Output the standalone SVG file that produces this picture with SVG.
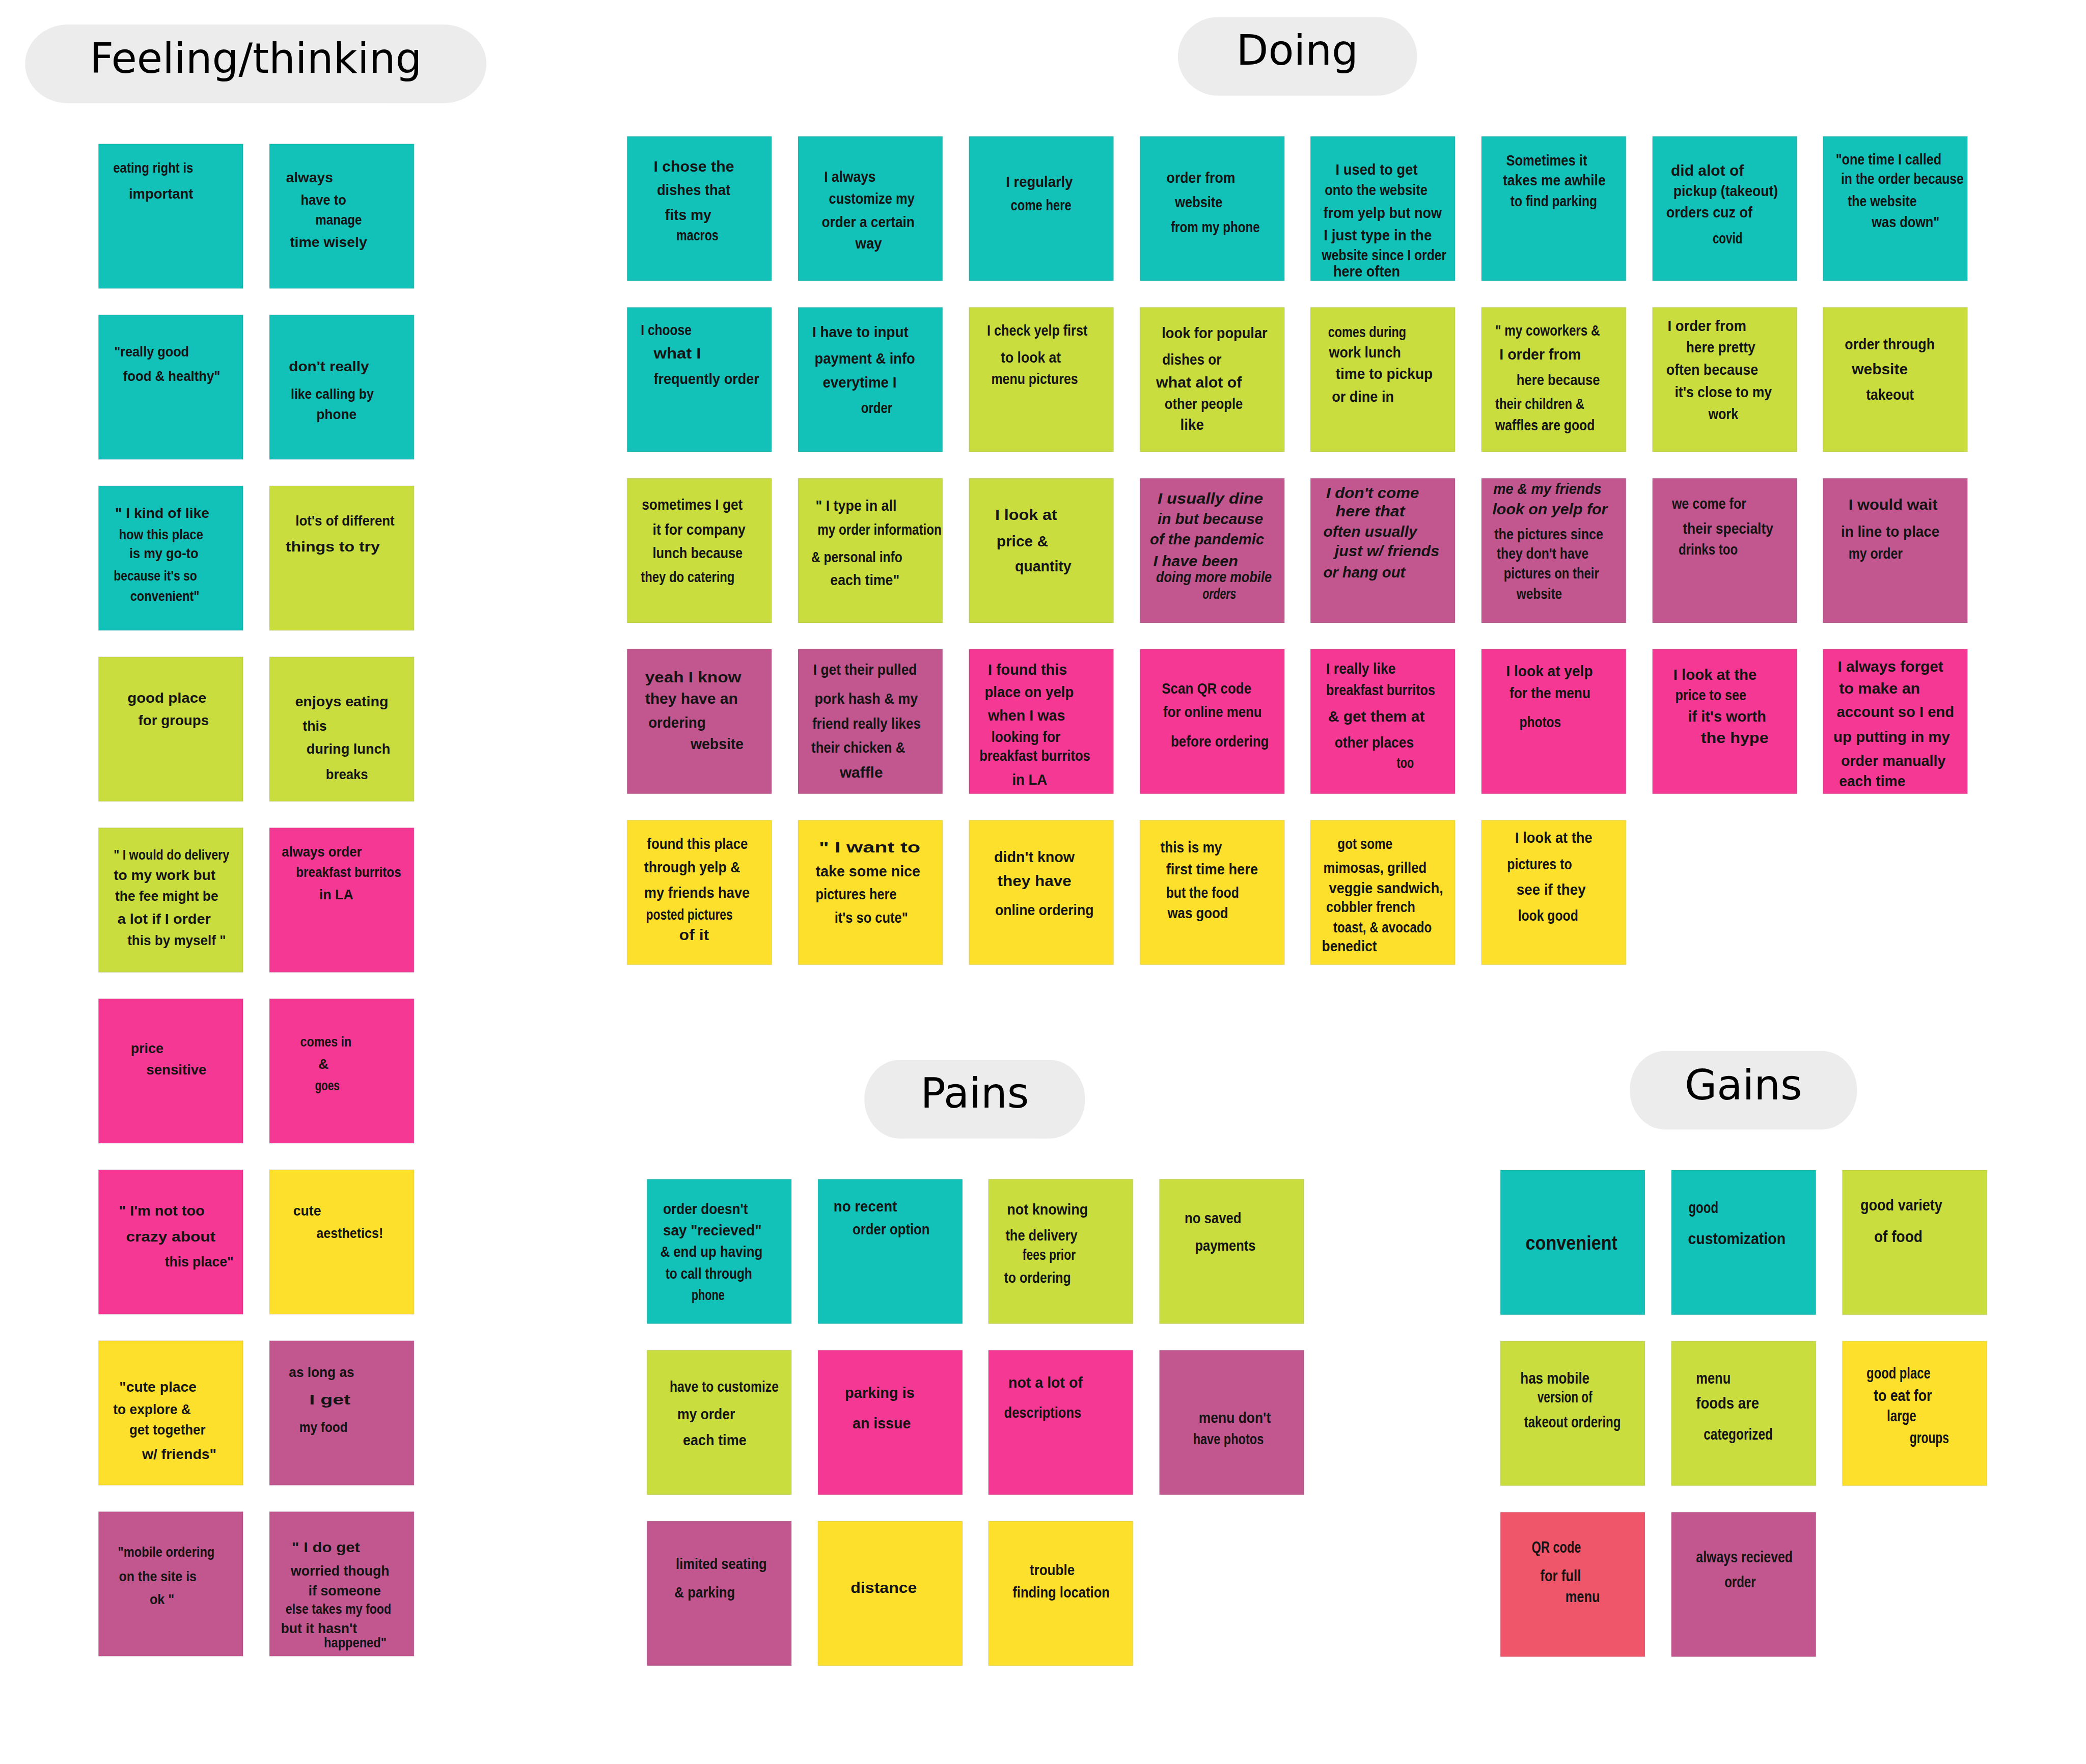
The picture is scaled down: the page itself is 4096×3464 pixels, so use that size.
<svg xmlns="http://www.w3.org/2000/svg" width="4096" height="3464" viewBox="0 0 4096 3464">
<style>
.pill{fill:#ECECEC}
.h{font-family:"DejaVu Sans","Liberation Sans",sans-serif;font-size:88px;fill:#000;text-anchor:middle}
.nt{stroke:rgba(0,0,0,0.07);stroke-width:2}
.teal{fill:#12C1B8}.lime{fill:#C9DD3E}.plum{fill:#C2568F}.pink{fill:#F43893}.yel{fill:#FDE02C}.coral{fill:#F0566A}
text.w{font-family:"Liberation Sans",Arial,sans-serif;font-weight:700;fill:#141414}
.s30{font-size:30px}.s32{font-size:32px}.s34{font-size:34px}.s42{font-size:42px}
.it{font-style:italic}
</style>
<rect x="0" y="0" width="4096" height="3464" fill="#FFFFFF"/>
<g transform="scale(0.93)">
<g id="headers">
<g id="hdr-feeling"><rect class="pill" x="53" y="52" width="974" height="166" rx="90" ry="83"/><text class="h" x="540" y="154">Feeling/thinking</text></g>
<g id="hdr-doing"><rect class="pill" x="2487" y="36" width="505" height="166" rx="85" ry="83"/><text class="h" x="2739" y="137">Doing</text></g>
<g id="hdr-pains"><rect class="pill" x="1825" y="2238" width="466" height="166" rx="75" ry="83"/><text class="h" x="2058" y="2339">Pains</text></g>
<g id="hdr-gains"><rect class="pill" x="3441" y="2219" width="480" height="166" rx="75" ry="83"/><text class="h" x="3681" y="2322">Gains</text></g>
</g>
<g id="connectors"/>

<!-- Feeling/thinking -->
<g id="feel-01" transform="translate(208,304)"><rect class="nt teal" width="305" height="305"/>
<text class="w s30" x="31" y="61" textLength="169" lengthAdjust="spacingAndGlyphs">eating right is</text>
<text class="w s30" x="64" y="115" textLength="136" lengthAdjust="spacingAndGlyphs">important</text></g>
<g id="feel-02" transform="translate(569,304)"><rect class="nt teal" width="305" height="305"/>
<text class="w s30" x="35" y="81" textLength="99" lengthAdjust="spacingAndGlyphs">always</text>
<text class="w s30" x="66" y="128" textLength="96" lengthAdjust="spacingAndGlyphs">have to</text>
<text class="w s30" x="97" y="170" textLength="98" lengthAdjust="spacingAndGlyphs">manage</text>
<text class="w s30" x="43" y="217" textLength="163" lengthAdjust="spacingAndGlyphs">time wisely</text></g>
<g id="feel-03" transform="translate(208,665)"><rect class="nt teal" width="305" height="305"/>
<text class="w s30" x="33" y="88" textLength="158" lengthAdjust="spacingAndGlyphs">"really good</text>
<text class="w s30" x="52" y="139" textLength="205" lengthAdjust="spacingAndGlyphs">food &amp; healthy"</text></g>
<g id="feel-04" transform="translate(569,665)"><rect class="nt teal" width="305" height="305"/>
<text class="w s30" x="41" y="119" textLength="169" lengthAdjust="spacingAndGlyphs">don't really</text>
<text class="w s30" x="45" y="177" textLength="175" lengthAdjust="spacingAndGlyphs">like calling by</text>
<text class="w s30" x="99" y="220" textLength="85" lengthAdjust="spacingAndGlyphs">phone</text></g>
<g id="feel-05" transform="translate(208,1026)"><rect class="nt teal" width="305" height="305"/>
<text class="w s30" x="35" y="68" textLength="199" lengthAdjust="spacingAndGlyphs">" I kind of like</text>
<text class="w s30" x="43" y="113" textLength="178" lengthAdjust="spacingAndGlyphs">how this place</text>
<text class="w s30" x="65" y="153" textLength="146" lengthAdjust="spacingAndGlyphs">is my go-to</text>
<text class="w s30" x="32" y="200" textLength="176" lengthAdjust="spacingAndGlyphs">because it's so</text>
<text class="w s30" x="67" y="243" textLength="146" lengthAdjust="spacingAndGlyphs">convenient"</text></g>
<g id="feel-06" transform="translate(569,1026)"><rect class="nt lime" width="305" height="305"/>
<text class="w s30" x="55" y="84" textLength="209" lengthAdjust="spacingAndGlyphs">lot's of different</text>
<text class="w s30" x="34" y="138" textLength="199" lengthAdjust="spacingAndGlyphs">things to try</text></g>
<g id="feel-07" transform="translate(208,1387)"><rect class="nt lime" width="305" height="305"/>
<text class="w s30" x="61" y="97" textLength="167" lengthAdjust="spacingAndGlyphs">good place</text>
<text class="w s30" x="84" y="144" textLength="149" lengthAdjust="spacingAndGlyphs">for groups</text></g>
<g id="feel-08" transform="translate(569,1387)"><rect class="nt lime" width="305" height="305"/>
<text class="w s30" x="54" y="104" textLength="197" lengthAdjust="spacingAndGlyphs">enjoys eating</text>
<text class="w s30" x="70" y="156" textLength="51" lengthAdjust="spacingAndGlyphs">this</text>
<text class="w s30" x="78" y="204" textLength="177" lengthAdjust="spacingAndGlyphs">during lunch</text>
<text class="w s30" x="119" y="258" textLength="89" lengthAdjust="spacingAndGlyphs">breaks</text></g>
<g id="feel-09" transform="translate(208,1748)"><rect class="nt lime" width="305" height="305"/>
<text class="w s30" x="32" y="67" textLength="244" lengthAdjust="spacingAndGlyphs">" I would do delivery</text>
<text class="w s30" x="32" y="110" textLength="215" lengthAdjust="spacingAndGlyphs">to my work but</text>
<text class="w s30" x="35" y="154" textLength="218" lengthAdjust="spacingAndGlyphs">the fee might be</text>
<text class="w s30" x="40" y="203" textLength="197" lengthAdjust="spacingAndGlyphs">a lot if I order</text>
<text class="w s30" x="61" y="248" textLength="208" lengthAdjust="spacingAndGlyphs">this by myself "</text></g>
<g id="feel-10" transform="translate(569,1748)"><rect class="nt pink" width="305" height="305"/>
<text class="w s30" x="26" y="61" textLength="169" lengthAdjust="spacingAndGlyphs">always order</text>
<text class="w s30" x="56" y="104" textLength="222" lengthAdjust="spacingAndGlyphs">breakfast burritos</text>
<text class="w s30" x="105" y="151" textLength="72" lengthAdjust="spacingAndGlyphs">in LA</text></g>
<g id="feel-11" transform="translate(208,2109)"><rect class="nt pink" width="305" height="305"/>
<text class="w s30" x="68" y="115" textLength="69" lengthAdjust="spacingAndGlyphs">price</text>
<text class="w s30" x="101" y="160" textLength="127" lengthAdjust="spacingAndGlyphs">sensitive</text></g>
<g id="feel-12" transform="translate(569,2109)"><rect class="nt pink" width="305" height="305"/>
<text class="w s30" x="65" y="101" textLength="108" lengthAdjust="spacingAndGlyphs">comes in</text>
<text class="w s30" x="103" y="148">&amp;</text>
<text class="w s30" x="96" y="193" textLength="52" lengthAdjust="spacingAndGlyphs">goes</text></g>
<g id="feel-13" transform="translate(208,2470)"><rect class="nt pink" width="305" height="305"/>
<text class="w s30" x="43" y="97" textLength="181" lengthAdjust="spacingAndGlyphs">" I'm not too</text>
<text class="w s30" x="58" y="151" textLength="189" lengthAdjust="spacingAndGlyphs">crazy about</text>
<text class="w s30" x="140" y="204" textLength="145" lengthAdjust="spacingAndGlyphs">this place"</text></g>
<g id="feel-14" transform="translate(569,2470)"><rect class="nt yel" width="305" height="305"/>
<text class="w s30" x="50" y="97" textLength="59" lengthAdjust="spacingAndGlyphs">cute</text>
<text class="w s30" x="99" y="144" textLength="141" lengthAdjust="spacingAndGlyphs">aesthetics!</text></g>
<g id="feel-15" transform="translate(208,2831)"><rect class="nt yel" width="305" height="305"/>
<text class="w s30" x="44" y="108" textLength="163" lengthAdjust="spacingAndGlyphs">"cute place</text>
<text class="w s30" x="31" y="155" textLength="164" lengthAdjust="spacingAndGlyphs">to explore &amp;</text>
<text class="w s30" x="65" y="198" textLength="161" lengthAdjust="spacingAndGlyphs">get together</text>
<text class="w s30" x="92" y="250" textLength="157" lengthAdjust="spacingAndGlyphs">w/ friends"</text></g>
<g id="feel-16" transform="translate(569,2831)"><rect class="nt plum" width="305" height="305"/>
<text class="w s30" x="41" y="76" textLength="138" lengthAdjust="spacingAndGlyphs">as long as</text>
<text class="w s30" x="84" y="135" textLength="87" lengthAdjust="spacingAndGlyphs">I  get</text>
<text class="w s30" x="63" y="193" textLength="102" lengthAdjust="spacingAndGlyphs">my food</text></g>
<g id="feel-17" transform="translate(208,3192)"><rect class="nt plum" width="305" height="305"/>
<text class="w s30" x="41" y="95" textLength="204" lengthAdjust="spacingAndGlyphs">"mobile ordering</text>
<text class="w s30" x="43" y="147" textLength="164" lengthAdjust="spacingAndGlyphs">on the site is</text>
<text class="w s30" x="108" y="195" textLength="52" lengthAdjust="spacingAndGlyphs">ok "</text></g>
<g id="feel-18" transform="translate(569,3192)"><rect class="nt plum" width="305" height="305"/>
<text class="w s30" x="47" y="85" textLength="144" lengthAdjust="spacingAndGlyphs">" I do get</text>
<text class="w s30" x="45" y="135" textLength="208" lengthAdjust="spacingAndGlyphs">worried though</text>
<text class="w s30" x="82" y="177" textLength="153" lengthAdjust="spacingAndGlyphs">if someone</text>
<text class="w s30" x="34" y="216" textLength="223" lengthAdjust="spacingAndGlyphs">else takes my food</text>
<text class="w s30" x="24" y="256" textLength="161" lengthAdjust="spacingAndGlyphs">but it hasn't</text>
<text class="w s30" x="115" y="287" textLength="132" lengthAdjust="spacingAndGlyphs">happened"</text></g>

<!-- Doing row 1 -->
<g id="doing-01" transform="translate(1324,288)"><rect class="nt teal" width="305" height="305"/>
<text class="w s32" x="56" y="74" textLength="170" lengthAdjust="spacingAndGlyphs">I chose the</text>
<text class="w s32" x="63" y="124" textLength="155" lengthAdjust="spacingAndGlyphs">dishes that</text>
<text class="w s32" x="80" y="176" textLength="98" lengthAdjust="spacingAndGlyphs">fits my</text>
<text class="w s32" x="104" y="220" textLength="89" lengthAdjust="spacingAndGlyphs">macros</text></g>
<g id="doing-02" transform="translate(1685,288)"><rect class="nt teal" width="305" height="305"/>
<text class="w s32" x="55" y="96" textLength="109" lengthAdjust="spacingAndGlyphs">I always</text>
<text class="w s32" x="65" y="142" textLength="181" lengthAdjust="spacingAndGlyphs">customize my</text>
<text class="w s32" x="50" y="192" textLength="196" lengthAdjust="spacingAndGlyphs">order a certain</text>
<text class="w s32" x="121" y="237" textLength="56" lengthAdjust="spacingAndGlyphs">way</text></g>
<g id="doing-03" transform="translate(2046,288)"><rect class="nt teal" width="305" height="305"/>
<text class="w s32" x="78" y="107" textLength="141" lengthAdjust="spacingAndGlyphs">I regularly</text>
<text class="w s32" x="88" y="156" textLength="128" lengthAdjust="spacingAndGlyphs">come here</text></g>
<g id="doing-04" transform="translate(2407,288)"><rect class="nt teal" width="305" height="305"/>
<text class="w s32" x="56" y="98" textLength="145" lengthAdjust="spacingAndGlyphs">order from</text>
<text class="w s32" x="74" y="150" textLength="100" lengthAdjust="spacingAndGlyphs">website</text>
<text class="w s32" x="65" y="202" textLength="188" lengthAdjust="spacingAndGlyphs">from my phone</text></g>
<g id="doing-05" transform="translate(2767,288)"><rect class="nt teal" width="305" height="305"/>
<text class="w s32" x="53" y="81" textLength="173" lengthAdjust="spacingAndGlyphs">I used to get</text>
<text class="w s32" x="30" y="124" textLength="217" lengthAdjust="spacingAndGlyphs">onto the website</text>
<text class="w s32" x="27" y="172" textLength="250" lengthAdjust="spacingAndGlyphs">from yelp but now</text>
<text class="w s32" x="28" y="220" textLength="228" lengthAdjust="spacingAndGlyphs">I just type in the</text>
<text class="w s32" x="24" y="261" textLength="263" lengthAdjust="spacingAndGlyphs">website since I order</text>
<text class="w s32" x="48" y="296" textLength="141" lengthAdjust="spacingAndGlyphs">here often</text></g>
<g id="doing-06" transform="translate(3128,288)"><rect class="nt teal" width="305" height="305"/>
<text class="w s32" x="52" y="61" textLength="171" lengthAdjust="spacingAndGlyphs">Sometimes it</text>
<text class="w s32" x="45" y="103" textLength="217" lengthAdjust="spacingAndGlyphs">takes me awhile</text>
<text class="w s32" x="61" y="148" textLength="183" lengthAdjust="spacingAndGlyphs">to find parking</text></g>
<g id="doing-07" transform="translate(3489,288)"><rect class="nt teal" width="305" height="305"/>
<text class="w s32" x="39" y="83" textLength="154" lengthAdjust="spacingAndGlyphs">did alot of</text>
<text class="w s32" x="44" y="126" textLength="221" lengthAdjust="spacingAndGlyphs">pickup (takeout)</text>
<text class="w s32" x="29" y="171" textLength="182" lengthAdjust="spacingAndGlyphs">orders cuz of</text>
<text class="w s32" x="127" y="226" textLength="63" lengthAdjust="spacingAndGlyphs">covid</text></g>
<g id="doing-08" transform="translate(3849,288)"><rect class="nt teal" width="305" height="305"/>
<text class="w s32" x="27" y="59" textLength="223" lengthAdjust="spacingAndGlyphs">"one time I called</text>
<text class="w s32" x="38" y="100" textLength="259" lengthAdjust="spacingAndGlyphs">in the order because</text>
<text class="w s32" x="52" y="147" textLength="146" lengthAdjust="spacingAndGlyphs">the website</text>
<text class="w s32" x="103" y="192" textLength="143" lengthAdjust="spacingAndGlyphs">was down"</text></g>

<!-- Doing row 2 -->
<g id="doing-09" transform="translate(1324,649)"><rect class="nt teal" width="305" height="305"/>
<text class="w s32" x="29" y="58" textLength="107" lengthAdjust="spacingAndGlyphs">I choose</text>
<text class="w s32" x="56" y="108" textLength="100" lengthAdjust="spacingAndGlyphs">what I</text>
<text class="w s32" x="56" y="162" textLength="223" lengthAdjust="spacingAndGlyphs">frequently order</text></g>
<g id="doing-10" transform="translate(1685,649)"><rect class="nt teal" width="305" height="305"/>
<text class="w s32" x="30" y="63" textLength="203" lengthAdjust="spacingAndGlyphs">I have to input</text>
<text class="w s32" x="35" y="119" textLength="212" lengthAdjust="spacingAndGlyphs">payment &amp; info</text>
<text class="w s32" x="52" y="169" textLength="156" lengthAdjust="spacingAndGlyphs">everytime  I</text>
<text class="w s32" x="133" y="223" textLength="66" lengthAdjust="spacingAndGlyphs">order</text></g>
<g id="doing-11" transform="translate(2046,649)"><rect class="nt lime" width="305" height="305"/>
<text class="w s32" x="38" y="60" textLength="212" lengthAdjust="spacingAndGlyphs">I check yelp first</text>
<text class="w s32" x="67" y="117" textLength="127" lengthAdjust="spacingAndGlyphs">to look at</text>
<text class="w s32" x="47" y="162" textLength="183" lengthAdjust="spacingAndGlyphs">menu pictures</text></g>
<g id="doing-12" transform="translate(2407,649)"><rect class="nt lime" width="305" height="305"/>
<text class="w s32" x="46" y="65" textLength="223" lengthAdjust="spacingAndGlyphs">look for popular</text>
<text class="w s32" x="47" y="121" textLength="125" lengthAdjust="spacingAndGlyphs">dishes or</text>
<text class="w s32" x="34" y="169" textLength="181" lengthAdjust="spacingAndGlyphs">what alot of</text>
<text class="w s32" x="52" y="214" textLength="165" lengthAdjust="spacingAndGlyphs">other people</text>
<text class="w s32" x="85" y="258" textLength="50" lengthAdjust="spacingAndGlyphs">like</text></g>
<g id="doing-13" transform="translate(2767,649)"><rect class="nt lime" width="305" height="305"/>
<text class="w s32" x="37" y="63" textLength="165" lengthAdjust="spacingAndGlyphs">comes during</text>
<text class="w s32" x="39" y="106" textLength="152" lengthAdjust="spacingAndGlyphs">work lunch</text>
<text class="w s32" x="53" y="151" textLength="205" lengthAdjust="spacingAndGlyphs">time to pickup</text>
<text class="w s32" x="45" y="199" textLength="131" lengthAdjust="spacingAndGlyphs">or dine in</text></g>
<g id="doing-14" transform="translate(3128,649)"><rect class="nt lime" width="305" height="305"/>
<text class="w s32" x="29" y="60" textLength="221" lengthAdjust="spacingAndGlyphs">" my coworkers &amp;</text>
<text class="w s32" x="38" y="110" textLength="172" lengthAdjust="spacingAndGlyphs">I  order  from</text>
<text class="w s32" x="74" y="164" textLength="176" lengthAdjust="spacingAndGlyphs">here because</text>
<text class="w s32" x="29" y="214" textLength="188" lengthAdjust="spacingAndGlyphs">their children &amp;</text>
<text class="w s32" x="29" y="260" textLength="210" lengthAdjust="spacingAndGlyphs">waffles are good</text></g>
<g id="doing-15" transform="translate(3489,649)"><rect class="nt lime" width="305" height="305"/>
<text class="w s32" x="32" y="50" textLength="166" lengthAdjust="spacingAndGlyphs">I order from</text>
<text class="w s32" x="71" y="95" textLength="146" lengthAdjust="spacingAndGlyphs">here pretty</text>
<text class="w s32" x="29" y="142" textLength="194" lengthAdjust="spacingAndGlyphs">often because</text>
<text class="w s32" x="47" y="190" textLength="205" lengthAdjust="spacingAndGlyphs">it's close to my</text>
<text class="w s32" x="118" y="236" textLength="63" lengthAdjust="spacingAndGlyphs">work</text></g>
<g id="doing-16" transform="translate(3849,649)"><rect class="nt lime" width="305" height="305"/>
<text class="w s32" x="46" y="89" textLength="190" lengthAdjust="spacingAndGlyphs">order through</text>
<text class="w s32" x="61" y="141" textLength="118" lengthAdjust="spacingAndGlyphs">website</text>
<text class="w s32" x="91" y="195" textLength="101" lengthAdjust="spacingAndGlyphs">takeout</text></g>

<!-- Doing row 3 -->
<g id="doing-17" transform="translate(1324,1010)"><rect class="nt lime" width="305" height="305"/>
<text class="w s32" x="31" y="66" textLength="213" lengthAdjust="spacingAndGlyphs">sometimes I get</text>
<text class="w s32" x="54" y="119" textLength="196" lengthAdjust="spacingAndGlyphs">it for company</text>
<text class="w s32" x="54" y="168" textLength="190" lengthAdjust="spacingAndGlyphs">lunch because</text>
<text class="w s32" x="29" y="219" textLength="198" lengthAdjust="spacingAndGlyphs">they do catering</text></g>
<g id="doing-18" transform="translate(1685,1010)"><rect class="nt lime" width="305" height="305"/>
<text class="w s32" x="37" y="68" textLength="171" lengthAdjust="spacingAndGlyphs">" I type in all</text>
<text class="w s32" x="41" y="119" textLength="262" lengthAdjust="spacingAndGlyphs">my order information</text>
<text class="w s32" x="28" y="177" textLength="192" lengthAdjust="spacingAndGlyphs">&amp; personal info</text>
<text class="w s32" x="68" y="226" textLength="146" lengthAdjust="spacingAndGlyphs">each time"</text></g>
<g id="doing-19" transform="translate(2046,1010)"><rect class="nt lime" width="305" height="305"/>
<text class="w s32" x="55" y="88" textLength="131" lengthAdjust="spacingAndGlyphs">I  look at</text>
<text class="w s32" x="58" y="144" textLength="109" lengthAdjust="spacingAndGlyphs">price  &amp;</text>
<text class="w s32" x="97" y="196" textLength="119" lengthAdjust="spacingAndGlyphs">quantity</text></g>
<g id="doing-20" transform="translate(2407,1010)"><rect class="nt plum" width="305" height="305"/>
<text class="w s32 it" x="37" y="53" textLength="223" lengthAdjust="spacingAndGlyphs">I usually dine</text>
<text class="w s32 it" x="37" y="96" textLength="223" lengthAdjust="spacingAndGlyphs">in but because</text>
<text class="w s32 it" x="21" y="139" textLength="241" lengthAdjust="spacingAndGlyphs">of the pandemic</text>
<text class="w s32 it" x="28" y="186" textLength="179" lengthAdjust="spacingAndGlyphs">I have been</text>
<text class="w s32 it" x="34" y="219" textLength="244" lengthAdjust="spacingAndGlyphs">doing more mobile</text>
<text class="w s32 it" x="132" y="255" textLength="71" lengthAdjust="spacingAndGlyphs">orders</text></g>
<g id="doing-21" transform="translate(2767,1010)"><rect class="nt plum" width="305" height="305"/>
<text class="w s32 it" x="33" y="42" textLength="196" lengthAdjust="spacingAndGlyphs">I don't come</text>
<text class="w s32 it" x="53" y="80" textLength="146" lengthAdjust="spacingAndGlyphs">here that</text>
<text class="w s32 it" x="27" y="123" textLength="198" lengthAdjust="spacingAndGlyphs">often usually</text>
<text class="w s32 it" x="51" y="164" textLength="221" lengthAdjust="spacingAndGlyphs">just w/ friends</text>
<text class="w s32 it" x="27" y="209" textLength="173" lengthAdjust="spacingAndGlyphs">or hang out</text></g>
<g id="doing-22" transform="translate(3128,1010)"><rect class="nt plum" width="305" height="305"/>
<text class="w s32 it" x="25" y="33" textLength="228" lengthAdjust="spacingAndGlyphs">me &amp; my friends</text>
<text class="w s32 it" x="23" y="76" textLength="243" lengthAdjust="spacingAndGlyphs">look on yelp for</text>
<text class="w s32" x="27" y="129" textLength="230" lengthAdjust="spacingAndGlyphs">the pictures since</text>
<text class="w s32" x="32" y="170" textLength="194" lengthAdjust="spacingAndGlyphs">they don't have</text>
<text class="w s32" x="47" y="212" textLength="201" lengthAdjust="spacingAndGlyphs">pictures on their</text>
<text class="w s32" x="74" y="254" textLength="96" lengthAdjust="spacingAndGlyphs">website</text></g>
<g id="doing-23" transform="translate(3489,1010)"><rect class="nt plum" width="305" height="305"/>
<text class="w s32" x="41" y="64" textLength="157" lengthAdjust="spacingAndGlyphs">we come for</text>
<text class="w s32" x="64" y="117" textLength="191" lengthAdjust="spacingAndGlyphs">their specialty</text>
<text class="w s32" x="55" y="161" textLength="125" lengthAdjust="spacingAndGlyphs">drinks too</text></g>
<g id="doing-24" transform="translate(3849,1010)"><rect class="nt plum" width="305" height="305"/>
<text class="w s32" x="54" y="66" textLength="188" lengthAdjust="spacingAndGlyphs">I would wait</text>
<text class="w s32" x="38" y="123" textLength="208" lengthAdjust="spacingAndGlyphs">in line to place</text>
<text class="w s32" x="54" y="170" textLength="114" lengthAdjust="spacingAndGlyphs">my order</text></g>

<!-- Doing row 4 -->
<g id="doing-25" transform="translate(1324,1371)"><rect class="nt plum" width="305" height="305"/>
<text class="w s32" x="38" y="70" textLength="203" lengthAdjust="spacingAndGlyphs">yeah I  know</text>
<text class="w s32" x="38" y="115" textLength="196" lengthAdjust="spacingAndGlyphs">they have an</text>
<text class="w s32" x="45" y="166" textLength="121" lengthAdjust="spacingAndGlyphs">ordering</text>
<text class="w s32" x="134" y="211" textLength="112" lengthAdjust="spacingAndGlyphs">website</text></g>
<g id="doing-26" transform="translate(1685,1371)"><rect class="nt plum" width="305" height="305"/>
<text class="w s32" x="32" y="54" textLength="219" lengthAdjust="spacingAndGlyphs">I get their pulled</text>
<text class="w s32" x="35" y="115" textLength="218" lengthAdjust="spacingAndGlyphs">pork hash &amp; my</text>
<text class="w s32" x="30" y="168" textLength="229" lengthAdjust="spacingAndGlyphs">friend really likes</text>
<text class="w s32" x="28" y="218" textLength="198" lengthAdjust="spacingAndGlyphs">their chicken &amp;</text>
<text class="w s32" x="88" y="271" textLength="91" lengthAdjust="spacingAndGlyphs">waffle</text></g>
<g id="doing-27" transform="translate(2046,1371)"><rect class="nt pink" width="305" height="305"/>
<text class="w s32" x="40" y="54" textLength="167" lengthAdjust="spacingAndGlyphs">I found this</text>
<text class="w s32" x="33" y="101" textLength="188" lengthAdjust="spacingAndGlyphs">place on yelp</text>
<text class="w s32" x="40" y="150" textLength="163" lengthAdjust="spacingAndGlyphs">when I was</text>
<text class="w s32" x="47" y="196" textLength="146" lengthAdjust="spacingAndGlyphs">looking for</text>
<text class="w s32" x="22" y="236" textLength="234" lengthAdjust="spacingAndGlyphs">breakfast burritos</text>
<text class="w s32" x="91" y="286" textLength="74" lengthAdjust="spacingAndGlyphs">in LA</text></g>
<g id="doing-28" transform="translate(2407,1371)"><rect class="nt pink" width="305" height="305"/>
<text class="w s32" x="46" y="93" textLength="189" lengthAdjust="spacingAndGlyphs">Scan QR code</text>
<text class="w s32" x="49" y="143" textLength="208" lengthAdjust="spacingAndGlyphs">for online menu</text>
<text class="w s32" x="65" y="205" textLength="207" lengthAdjust="spacingAndGlyphs">before ordering</text></g>
<g id="doing-29" transform="translate(2767,1371)"><rect class="nt pink" width="305" height="305"/>
<text class="w s32" x="33" y="52" textLength="147" lengthAdjust="spacingAndGlyphs">I really like</text>
<text class="w s32" x="33" y="97" textLength="230" lengthAdjust="spacingAndGlyphs">breakfast burritos</text>
<text class="w s32" x="37" y="153" textLength="204" lengthAdjust="spacingAndGlyphs">&amp; get them at</text>
<text class="w s32" x="51" y="207" textLength="167" lengthAdjust="spacingAndGlyphs">other places</text>
<text class="w s32" x="182" y="251" textLength="36" lengthAdjust="spacingAndGlyphs">too</text></g>
<g id="doing-30" transform="translate(3128,1371)"><rect class="nt pink" width="305" height="305"/>
<text class="w s32" x="52" y="57" textLength="183" lengthAdjust="spacingAndGlyphs">I look at yelp</text>
<text class="w s32" x="59" y="103" textLength="171" lengthAdjust="spacingAndGlyphs">for the menu</text>
<text class="w s32" x="80" y="165" textLength="88" lengthAdjust="spacingAndGlyphs">photos</text></g>
<g id="doing-31" transform="translate(3489,1371)"><rect class="nt pink" width="305" height="305"/>
<text class="w s32" x="44" y="64" textLength="176" lengthAdjust="spacingAndGlyphs">I look at the</text>
<text class="w s32" x="48" y="107" textLength="150" lengthAdjust="spacingAndGlyphs">price to see</text>
<text class="w s32" x="75" y="153" textLength="165" lengthAdjust="spacingAndGlyphs">if it's worth</text>
<text class="w s32" x="102" y="198" textLength="143" lengthAdjust="spacingAndGlyphs">the  hype</text></g>
<g id="doing-32" transform="translate(3849,1371)"><rect class="nt pink" width="305" height="305"/>
<text class="w s32" x="31" y="47" textLength="223" lengthAdjust="spacingAndGlyphs">I always forget</text>
<text class="w s32" x="34" y="93" textLength="171" lengthAdjust="spacingAndGlyphs">to make an</text>
<text class="w s32" x="29" y="143" textLength="248" lengthAdjust="spacingAndGlyphs">account so I end</text>
<text class="w s32" x="22" y="196" textLength="246" lengthAdjust="spacingAndGlyphs">up putting in my</text>
<text class="w s32" x="38" y="246" textLength="221" lengthAdjust="spacingAndGlyphs">order manually</text>
<text class="w s32" x="34" y="289" textLength="140" lengthAdjust="spacingAndGlyphs">each time</text></g>

<!-- Doing row 5 -->
<g id="doing-33" transform="translate(1324,1732)"><rect class="nt yel" width="305" height="305"/>
<text class="w s32" x="42" y="61" textLength="213" lengthAdjust="spacingAndGlyphs">found this place</text>
<text class="w s32" x="36" y="110" textLength="203" lengthAdjust="spacingAndGlyphs">through yelp &amp;</text>
<text class="w s32" x="36" y="164" textLength="223" lengthAdjust="spacingAndGlyphs">my friends have</text>
<text class="w s32" x="40" y="210" textLength="183" lengthAdjust="spacingAndGlyphs">posted pictures</text>
<text class="w s32" x="110" y="253" textLength="63" lengthAdjust="spacingAndGlyphs">of it</text></g>
<g id="doing-34" transform="translate(1685,1732)"><rect class="nt yel" width="305" height="305"/>
<text class="w s32" x="44" y="68" textLength="214" lengthAdjust="spacingAndGlyphs">" I  want  to</text>
<text class="w s32" x="37" y="119" textLength="221" lengthAdjust="spacingAndGlyphs">take some nice</text>
<text class="w s32" x="37" y="167" textLength="171" lengthAdjust="spacingAndGlyphs">pictures here</text>
<text class="w s32" x="77" y="216" textLength="155" lengthAdjust="spacingAndGlyphs">it's so cute"</text></g>
<g id="doing-35" transform="translate(2046,1732)"><rect class="nt yel" width="305" height="305"/>
<text class="w s32" x="53" y="88" textLength="170" lengthAdjust="spacingAndGlyphs">didn't  know</text>
<text class="w s32" x="60" y="139" textLength="156" lengthAdjust="spacingAndGlyphs">they  have</text>
<text class="w s32" x="55" y="200" textLength="208" lengthAdjust="spacingAndGlyphs">online ordering</text></g>
<g id="doing-36" transform="translate(2407,1732)"><rect class="nt yel" width="305" height="305"/>
<text class="w s32" x="43" y="68" textLength="130" lengthAdjust="spacingAndGlyphs">this is my</text>
<text class="w s32" x="55" y="114" textLength="194" lengthAdjust="spacingAndGlyphs">first time here</text>
<text class="w s32" x="55" y="164" textLength="154" lengthAdjust="spacingAndGlyphs">but the food</text>
<text class="w s32" x="58" y="207" textLength="128" lengthAdjust="spacingAndGlyphs">was good</text></g>
<g id="doing-37" transform="translate(2767,1732)"><rect class="nt yel" width="305" height="305"/>
<text class="w s32" x="57" y="61" textLength="116" lengthAdjust="spacingAndGlyphs">got some</text>
<text class="w s32" x="27" y="111" textLength="218" lengthAdjust="spacingAndGlyphs">mimosas, grilled</text>
<text class="w s32" x="39" y="154" textLength="241" lengthAdjust="spacingAndGlyphs">veggie sandwich,</text>
<text class="w s32" x="33" y="194" textLength="188" lengthAdjust="spacingAndGlyphs">cobbler french</text>
<text class="w s32" x="48" y="237" textLength="208" lengthAdjust="spacingAndGlyphs">toast, &amp; avocado</text>
<text class="w s32" x="24" y="277" textLength="116" lengthAdjust="spacingAndGlyphs">benedict</text></g>
<g id="doing-38" transform="translate(3128,1732)"><rect class="nt yel" width="305" height="305"/>
<text class="w s32" x="71" y="48" textLength="163" lengthAdjust="spacingAndGlyphs">I look at the</text>
<text class="w s32" x="54" y="104" textLength="137" lengthAdjust="spacingAndGlyphs">pictures to</text>
<text class="w s32" x="74" y="157" textLength="146" lengthAdjust="spacingAndGlyphs">see if they</text>
<text class="w s32" x="77" y="212" textLength="127" lengthAdjust="spacingAndGlyphs">look good</text></g>

<!-- Pains -->
<g id="pain-01" transform="translate(1366,2490)"><rect class="nt teal" width="305" height="305"/>
<text class="w s32" x="34" y="73" textLength="179" lengthAdjust="spacingAndGlyphs">order doesn't</text>
<text class="w s32" x="34" y="119" textLength="208" lengthAdjust="spacingAndGlyphs">say "recieved"</text>
<text class="w s32" x="28" y="164" textLength="216" lengthAdjust="spacingAndGlyphs">&amp; end up having</text>
<text class="w s32" x="39" y="210" textLength="183" lengthAdjust="spacingAndGlyphs">to call through</text>
<text class="w s32" x="94" y="255" textLength="70" lengthAdjust="spacingAndGlyphs">phone</text></g>
<g id="pain-02" transform="translate(1727,2490)"><rect class="nt teal" width="305" height="305"/>
<text class="w s32" x="33" y="68" textLength="134" lengthAdjust="spacingAndGlyphs">no recent</text>
<text class="w s32" x="73" y="116" textLength="163" lengthAdjust="spacingAndGlyphs">order option</text></g>
<g id="pain-03" transform="translate(2087,2490)"><rect class="nt lime" width="305" height="305"/>
<text class="w s32" x="39" y="75" textLength="171" lengthAdjust="spacingAndGlyphs">not knowing</text>
<text class="w s32" x="36" y="129" textLength="152" lengthAdjust="spacingAndGlyphs">the delivery</text>
<text class="w s32" x="72" y="170" textLength="112" lengthAdjust="spacingAndGlyphs">fees prior</text>
<text class="w s32" x="33" y="219" textLength="141" lengthAdjust="spacingAndGlyphs">to ordering</text></g>
<g id="pain-04" transform="translate(2448,2490)"><rect class="nt lime" width="305" height="305"/>
<text class="w s32" x="53" y="93" textLength="120" lengthAdjust="spacingAndGlyphs">no saved</text>
<text class="w s32" x="75" y="151" textLength="128" lengthAdjust="spacingAndGlyphs">payments</text></g>
<g id="pain-05" transform="translate(1366,2851)"><rect class="nt lime" width="305" height="305"/>
<text class="w s32" x="48" y="88" textLength="230" lengthAdjust="spacingAndGlyphs">have to customize</text>
<text class="w s32" x="64" y="146" textLength="122" lengthAdjust="spacingAndGlyphs">my order</text>
<text class="w s32" x="76" y="201" textLength="134" lengthAdjust="spacingAndGlyphs">each time</text></g>
<g id="pain-06" transform="translate(1727,2851)"><rect class="nt pink" width="305" height="305"/>
<text class="w s32" x="57" y="101" textLength="147" lengthAdjust="spacingAndGlyphs">parking is</text>
<text class="w s32" x="73" y="165" textLength="123" lengthAdjust="spacingAndGlyphs">an issue</text></g>
<g id="pain-07" transform="translate(2087,2851)"><rect class="nt pink" width="305" height="305"/>
<text class="w s32" x="42" y="79" textLength="157" lengthAdjust="spacingAndGlyphs">not a lot of</text>
<text class="w s32" x="33" y="143" textLength="163" lengthAdjust="spacingAndGlyphs">descriptions</text></g>
<g id="pain-08" transform="translate(2448,2851)"><rect class="nt plum" width="305" height="305"/>
<text class="w s32" x="83" y="153" textLength="152" lengthAdjust="spacingAndGlyphs">menu don't</text>
<text class="w s32" x="71" y="198" textLength="149" lengthAdjust="spacingAndGlyphs">have photos</text></g>
<g id="pain-09" transform="translate(1366,3212)"><rect class="nt plum" width="305" height="305"/>
<text class="w s32" x="61" y="101" textLength="192" lengthAdjust="spacingAndGlyphs">limited seating</text>
<text class="w s32" x="58" y="161" textLength="128" lengthAdjust="spacingAndGlyphs">&amp; parking</text></g>
<g id="pain-10" transform="translate(1727,3212)"><rect class="nt yel" width="305" height="305"/>
<text class="w s32" x="69" y="151" textLength="140" lengthAdjust="spacingAndGlyphs">distance</text></g>
<g id="pain-11" transform="translate(2087,3212)"><rect class="nt yel" width="305" height="305"/>
<text class="w s32" x="87" y="114" textLength="95" lengthAdjust="spacingAndGlyphs">trouble</text>
<text class="w s32" x="51" y="161" textLength="205" lengthAdjust="spacingAndGlyphs">finding location</text></g>

<!-- Gains -->
<g id="gain-01" transform="translate(3168,2471)"><rect class="nt teal" width="305" height="305"/>
<text class="w s42" x="53" y="168" textLength="194" lengthAdjust="spacingAndGlyphs">convenient</text></g>
<g id="gain-02" transform="translate(3529,2471)"><rect class="nt teal" width="305" height="305"/>
<text class="w s34" x="36" y="90" textLength="63" lengthAdjust="spacingAndGlyphs">good</text>
<text class="w s34" x="35" y="156" textLength="206" lengthAdjust="spacingAndGlyphs">customization</text></g>
<g id="gain-03" transform="translate(3890,2471)"><rect class="nt lime" width="305" height="305"/>
<text class="w s34" x="38" y="85" textLength="173" lengthAdjust="spacingAndGlyphs">good variety</text>
<text class="w s34" x="67" y="152" textLength="102" lengthAdjust="spacingAndGlyphs">of  food</text></g>
<g id="gain-04" transform="translate(3168,2832)"><rect class="nt lime" width="305" height="305"/>
<text class="w s34" x="42" y="89" textLength="146" lengthAdjust="spacingAndGlyphs">has  mobile</text>
<text class="w s34" x="78" y="129" textLength="116" lengthAdjust="spacingAndGlyphs">version of</text>
<text class="w s34" x="50" y="182" textLength="204" lengthAdjust="spacingAndGlyphs">takeout ordering</text></g>
<g id="gain-05" transform="translate(3529,2832)"><rect class="nt lime" width="305" height="305"/>
<text class="w s34" x="52" y="89" textLength="73" lengthAdjust="spacingAndGlyphs">menu</text>
<text class="w s34" x="52" y="142" textLength="133" lengthAdjust="spacingAndGlyphs">foods  are</text>
<text class="w s34" x="68" y="208" textLength="146" lengthAdjust="spacingAndGlyphs">categorized</text></g>
<g id="gain-06" transform="translate(3890,2832)"><rect class="nt yel" width="305" height="305"/>
<text class="w s34" x="51" y="79" textLength="135" lengthAdjust="spacingAndGlyphs">good place</text>
<text class="w s34" x="66" y="126" textLength="123" lengthAdjust="spacingAndGlyphs">to eat for</text>
<text class="w s34" x="94" y="169" textLength="62" lengthAdjust="spacingAndGlyphs">large</text>
<text class="w s34" x="142" y="215" textLength="83" lengthAdjust="spacingAndGlyphs">groups</text></g>
<g id="gain-07" transform="translate(3168,3193)"><rect class="nt coral" width="305" height="305"/>
<text class="w s34" x="66" y="86" textLength="104" lengthAdjust="spacingAndGlyphs">QR code</text>
<text class="w s34" x="84" y="146" textLength="86" lengthAdjust="spacingAndGlyphs">for full</text>
<text class="w s34" x="137" y="190" textLength="73" lengthAdjust="spacingAndGlyphs">menu</text></g>
<g id="gain-08" transform="translate(3529,3193)"><rect class="nt plum" width="305" height="305"/>
<text class="w s34" x="52" y="106" textLength="204" lengthAdjust="spacingAndGlyphs">always recieved</text>
<text class="w s34" x="112" y="159" textLength="66" lengthAdjust="spacingAndGlyphs">order</text></g>
</g>
</svg>
